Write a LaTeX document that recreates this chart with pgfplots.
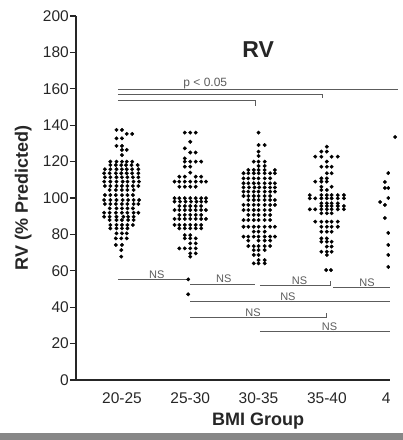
\documentclass[border=0pt]{standalone}
\usepackage{fontspec}
\setmainfont{Liberation Sans}
\usepackage{pgfplots}
\pgfplotsset{compat=1.18}
\definecolor{ink}{HTML}{262626}
\definecolor{barc}{HTML}{5c5c5c}
\begin{document}
\begin{tikzpicture}
\useasboundingbox (-76pt,-60pt) rectangle (327pt,380pt);
\clip (-76pt,-60pt) rectangle (327pt,380pt);
\begin{axis}[
  scale only axis, width=364.2pt, height=364pt,
  xmin=0.327, xmax=5.66, ymin=0, ymax=200,
  axis x line*=bottom, axis y line*=left,
  axis line style={-, ink, line width=1.3pt},
  ytick={0,20,...,200},
  xtick={1,2,3,4,5}, xticklabels={20-25,25-30,30-35,35-40,40+},
  tick align=outside, major tick length=6pt,
  ytick style={ink, line width=1.1pt},
  xtick style={draw=none},
  /pgf/number format/assume math mode=true,
  ticklabel style={font=\fontsize{15.5}{18}\selectfont, text=ink},
  yticklabel style={inner sep=1pt},
  xticklabel style={yshift=-3pt},
  xlabel={BMI Group}, ylabel={RV (\% Predicted)},
  every axis x label/.style={at={(axis description cs:0.5,-0.126)}, anchor=base, font=\bfseries\fontsize{18}{20}\selectfont, text=ink},
  every axis y label/.style={at={(axis description cs:-0.132,0.5)}, rotate=90, anchor=base, font=\bfseries\fontsize{18}{20}\selectfont, text=ink},
  clip=false,
]
% group 1: 20-25
\addplot[only marks, mark=*, mark size=1.75pt, black] coordinates {
(0.92,137.4)(1.0,137.4)(1.07,135.2)(1.15,135.2)(0.92,132.8)(1.0,132.8)
(0.92,128.6)(1.0,128.6)(1.0,126.4)(1.07,126.4)(1.0,123.6)
(0.83,120.0)(0.92,120.0)(1.0,120.0)(1.07,120.0)(1.15,120.0)
(0.83,118.1)(0.91,118.1)(0.99,118.1)(1.06,118.1)(1.14,118.1)(1.23,118.1)
(0.75,115.8)(0.83,115.8)(0.92,115.8)(1.0,115.8)(1.07,115.8)(1.15,115.8)(1.24,115.8)
(0.74,113.6)(0.82,113.6)(0.91,113.6)(0.99,113.6)(1.07,113.6)(1.15,113.6)(1.24,113.6)
(0.75,111.4)(0.83,111.4)(0.92,111.4)(1.0,111.4)(1.08,111.4)(1.16,111.4)(1.24,111.4)
(0.74,109.0)(0.83,109.0)(0.92,109.0)(1.01,109.0)(1.08,109.0)(1.17,109.0)(1.25,109.0)
(0.75,106.6)(0.83,106.6)(0.92,106.6)(1.0,106.6)(1.08,106.6)(1.16,106.6)(1.24,106.6)
(0.82,104.4)(0.91,104.4)(1.0,104.4)(1.08,104.4)(1.17,104.4)
(0.75,101.6)(0.83,101.6)(0.91,101.6)(1.0,101.6)(1.08,101.6)(1.16,101.6)
(0.74,98.9)(0.83,98.9)(0.92,98.9)(1.01,98.9)(1.09,98.9)(1.17,98.9)(1.25,98.9)
(0.75,96.7)(0.83,96.7)(0.91,96.7)(1.0,96.7)(1.08,96.7)(1.17,96.7)(1.24,96.7)
(0.82,94.3)(0.92,94.3)(1.0,94.3)(1.08,94.3)(1.16,94.3)
(0.74,91.9)(0.82,91.9)(0.91,91.9)(1.0,91.9)(1.08,91.9)(1.17,91.9)(1.24,91.9)
(0.74,89.7)(0.82,89.7)(0.92,89.7)(1.02,89.7)(1.09,89.7)(1.17,89.7)
(0.82,87.9)(0.92,87.9)(1.0,87.9)(1.09,87.9)(1.17,87.9)
(0.83,85.2)(0.92,85.2)(1.0,85.2)(1.08,85.2)(1.16,85.2)
(0.83,83.3)(0.92,83.3)(1.0,83.3)(1.08,83.3)
(0.92,80.6)(1.0,80.6)(1.07,80.6)(0.91,77.8)(0.99,77.8)(1.07,77.8)
(0.91,74.2)(1.0,74.2)(0.99,71.4)(0.99,67.8)
};
% group 2: 25-30
\addplot[only marks, mark=*, mark size=1.75pt, black] coordinates {
(1.92,135.9)(2.0,135.9)(2.08,135.9)(2.0,130.9)(1.92,127.3)(2.0,125.0)(2.08,125.0)
(1.92,121.8)(1.92,120.0)(2.0,120.0)(2.08,120.0)(2.16,120.0)(1.92,117.2)(2.0,117.2)
(2.0,113.9)(1.84,111.7)(1.92,111.7)(2.08,111.7)(2.16,111.7)
(1.77,109.0)(1.84,109.0)(1.92,109.0)(2.0,109.0)(2.08,109.0)(2.16,109.0)(2.23,109.0)
(1.84,106.2)(1.92,106.2)(2.0,106.2)(2.08,106.2)
(1.77,99.9)(1.84,99.9)(1.92,99.9)(2.0,99.9)(2.08,99.9)(2.16,99.9)(2.23,99.9)
(1.77,98.0)(1.85,98.0)(1.93,98.0)(2.01,98.0)(2.09,98.0)(2.16,98.0)(2.23,98.0)
(1.84,95.6)(1.92,95.6)(2.0,95.6)(2.08,95.6)(2.16,95.6)
(1.77,93.4)(1.84,93.4)(1.92,93.4)(2.0,93.4)(2.08,93.4)(2.16,93.4)(2.23,93.4)
(1.84,90.7)(1.92,90.7)(2.0,90.7)(2.08,90.7)(2.16,90.7)
(1.77,88.5)(1.84,88.5)(1.92,88.5)(2.0,88.5)(2.08,88.5)(2.16,88.5)(2.23,88.5)
(1.77,85.2)(1.84,85.2)(1.92,85.2)(2.0,85.2)(2.08,85.2)(2.16,85.2)
(1.84,83.3)(1.92,83.3)(2.0,83.3)(2.08,83.3)(2.16,83.3)
(1.92,79.6)(2.0,79.6)(1.92,77.8)(2.0,77.8)(2.08,77.8)(2.0,75.1)(2.08,75.1)
(1.84,72.3)(1.92,72.3)(2.0,72.3)(2.08,72.3)(2.0,69.6)(2.08,69.6)(2.0,67.8)
(1.97,55.3)(1.97,47.1)
};
% group 3: 30-35
\addplot[only marks, mark=*, mark size=1.75pt, black] coordinates {
(3.0,135.9)(3.0,129.1)(3.09,129.1)(3.0,125.5)(3.0,123.1)
(2.93,120.0)(3.0,120.0)(3.09,120.0)(3.0,117.6)(3.09,117.6)
(2.85,115.4)(2.93,115.4)(3.0,115.4)(3.09,115.4)(3.24,115.4)
(2.78,113.6)(2.85,113.6)(2.93,113.6)(3.0,113.6)(3.09,113.6)(3.17,113.6)(3.24,113.6)
(2.78,110.8)(2.85,110.8)(2.93,110.8)(3.0,110.8)(3.09,110.8)(3.17,110.8)
(2.78,108.1)(2.85,108.1)(2.93,108.1)(3.0,108.1)(3.09,108.1)(3.17,108.1)(3.24,108.1)
(2.78,105.8)(2.86,105.8)(2.94,105.8)(3.01,105.8)(3.09,105.8)(3.17,105.8)(3.24,105.8)
(2.78,103.5)(2.85,103.5)(2.93,103.5)(3.0,103.5)(3.09,103.5)(3.17,103.5)(3.24,103.5)
(2.78,101.1)(2.85,101.1)(2.93,101.1)(3.0,101.1)(3.09,101.1)(3.17,101.1)
(2.85,98.9)(2.93,98.9)(3.0,98.9)(3.09,98.9)(3.17,98.9)(3.24,98.9)
(2.78,96.2)(2.85,96.2)(2.93,96.2)(3.0,96.2)(3.09,96.2)(3.17,96.2)(3.24,96.2)
(2.78,93.4)(2.85,93.4)(2.93,93.4)(3.0,93.4)(3.09,93.4)(3.17,93.4)
(2.85,90.7)(2.93,90.7)(3.0,90.7)(3.09,90.7)(3.17,90.7)
(2.78,87.9)(2.85,87.9)(2.93,87.9)(3.0,87.9)(3.09,87.9)(3.17,87.9)
(2.78,84.2)(2.85,84.2)(2.93,84.2)(3.0,84.2)(3.09,84.2)(3.17,84.2)(3.24,84.2)
(2.93,81.5)(3.0,81.5)(3.09,81.5)
(2.78,78.8)(2.85,78.8)(2.93,78.8)(3.0,78.8)(3.09,78.8)(3.17,78.8)(3.24,78.8)
(2.85,76.6)(3.0,76.6)(3.09,76.6)(3.17,76.6)
(2.85,73.6)(2.93,73.6)(3.0,73.6)(3.09,73.6)(3.17,73.6)
(2.93,71.4)(3.0,71.4)(3.09,71.4)(2.93,68.7)(3.0,68.7)(3.0,65.9)(3.09,65.9)
(2.93,64.1)(3.0,64.1)(3.09,64.1)
};
% group 4: 35-40
\addplot[only marks, mark=*, mark size=1.75pt, black] coordinates {
(4.0,128.2)(3.92,125.5)(4.0,125.5)(3.83,122.7)(3.92,122.7)(4.07,122.7)(4.16,122.7)
(4.0,120.0)(3.92,117.2)(4.0,117.2)(4.07,117.2)(4.0,113.6)(4.07,113.6)
(3.92,110.8)(4.0,110.8)(3.83,109.0)(3.92,109.0)(4.0,109.0)(3.92,106.2)(4.07,106.2)
(3.92,104.4)(4.0,104.4)
(3.75,101.6)(3.92,101.6)(4.0,101.6)(4.07,101.6)(4.16,101.6)(4.25,101.6)
(3.75,99.8)(3.83,99.8)(3.92,99.8)(4.0,99.8)(4.07,99.8)(4.16,99.8)(4.25,99.8)
(3.92,97.1)(4.0,97.1)(4.07,97.1)(4.16,97.1)
(3.92,95.6)(4.0,95.6)(4.07,95.6)(4.16,95.6)(4.25,95.6)
(3.75,93.8)(3.83,93.8)(3.92,93.8)(4.0,93.8)(4.07,93.8)(4.16,93.8)(4.25,93.8)
(3.92,91.6)(4.0,91.6)(4.07,91.6)
(3.83,87.0)(3.92,87.0)(4.0,87.0)(4.07,87.0)(4.16,87.0)
(3.92,84.2)(4.0,84.2)(4.07,84.2)(4.16,84.2)
(3.92,81.5)(4.0,81.5)(4.07,81.5)(3.92,77.8)(4.0,77.8)
(3.92,76.0)(4.0,76.0)(4.07,76.0)(4.0,73.3)(4.07,73.3)
(3.92,70.5)(4.0,70.5)(4.07,70.5)(4.0,68.7)(3.99,60.4)(4.06,60.4)
};
% group 5: 40+ (partly visible)
\addplot[only marks, mark=*, mark size=1.75pt, black] coordinates {
(5.0,133.5)(4.9,113.7)(4.85,108.8)(4.85,105.5)(4.9,105.5)(4.9,100.0)
(4.78,97.8)(4.85,96.2)(4.85,89.0)(4.9,80.8)(4.9,74.2)(4.9,68.7)(4.9,62.1)
};
% significance bars (top)
\addplot[barc, line width=1.2pt, no marks] coordinates {(0.94,159.5)(5.04,159.5)};
\addplot[barc, line width=1.2pt, no marks] coordinates {(0.94,156.7)(3.94,156.7)(3.94,155.0)};
\addplot[barc, line width=1.2pt, no marks] coordinates {(0.94,153.4)(2.96,153.4)(2.96,150.5)};
\node[anchor=base, font=\fontsize{12}{14}\selectfont, text=barc, inner sep=0pt] at (axis cs:2.22,161.3) {p < 0.05};
% NS bars (bottom)
\addplot[barc, line width=1.0pt, no marks] coordinates {(0.94,55.3)(1.97,55.3)};
\addplot[barc, line width=1.0pt, no marks] coordinates {(2.0,52.6)(2.95,52.6)};
\addplot[barc, line width=1.0pt, no marks] coordinates {(3.02,52.1)(4.05,52.1)(4.05,54.6)};
\addplot[barc, line width=1.0pt, no marks] coordinates {(4.09,51.0)(5.1,51.0)};
\addplot[barc, line width=1.0pt, no marks] coordinates {(2.0,42.9)(5.1,42.9)};
\addplot[barc, line width=1.0pt, no marks] coordinates {(2.0,34.4)(4.0,34.4)(4.0,36.6)};
\addplot[barc, line width=1.0pt, no marks] coordinates {(3.02,26.5)(5.1,26.5)};
\begin{scope}[every node/.style={anchor=base, font=\fontsize{11}{13}\selectfont, text=barc, inner sep=0pt}]
\node at (axis cs:1.51,55.9) {NS};
\node at (axis cs:2.49,53.6) {NS};
\node at (axis cs:3.60,52.5) {NS};
\node at (axis cs:4.59,51.4) {NS};
\node at (axis cs:3.43,43.6) {NS};
\node at (axis cs:2.92,35.0) {NS};
\node at (axis cs:4.04,27.2) {NS};
\end{scope}
\node[anchor=base, font=\bfseries\fontsize{23}{26}\selectfont, text=ink] at (axis description cs:0.5,0.887) {RV};
\end{axis}
% scan artefacts of the reference: white patch at the right, grey strip at the bottom
\fill[white] (314pt,210pt) rectangle (330pt,-53pt);
\fill[black!47] (-80pt,-53pt) rectangle (330pt,-62pt);
\end{tikzpicture}
\end{document}
